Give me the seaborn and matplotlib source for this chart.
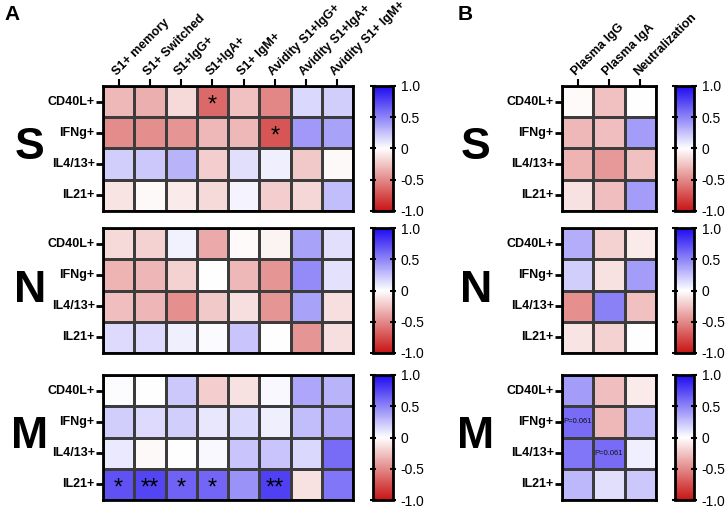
import matplotlib
matplotlib.use("Agg")
import matplotlib.pyplot as plt
import numpy as np
import pandas as pd
import seaborn as sns
from matplotlib.colors import LinearSegmentedColormap

# row / column labels
rows = ["CD40L+", "IFNg+", "IL4/13+", "IL21+"]
cols_a = ["S1+ memory", "S1+ Switched", "S1+IgG+", "S1+IgA+", "S1+ IgM+",
          "Avidity S1+IgG+", "Avidity S1+IgA+", "Avidity S1+ IgM+"]
cols_b = ["Plasma IgG", "Plasma IgA", "Neutralization"]
proteins = ["S", "N", "M"]

# correlation values (panel A)
a_S = [[-0.30, -0.34, -0.16, -0.64, -0.26, -0.51, 0.16, 0.20],
       [-0.49, -0.48, -0.45, -0.30, -0.30, -0.72, 0.42, 0.38],
       [0.20, 0.22, 0.31, -0.21, 0.13, 0.07, -0.23, -0.03],
       [-0.11, -0.03, -0.09, -0.16, 0.04, -0.21, -0.17, 0.27]]
a_N = [[-0.16, -0.19, 0.06, -0.36, -0.02, -0.05, 0.38, 0.13],
       [-0.32, -0.31, -0.19, 0.00, -0.30, -0.45, 0.47, 0.12],
       [-0.28, -0.31, -0.47, -0.23, -0.14, -0.45, 0.38, -0.14],
       [0.15, 0.15, 0.07, 0.02, 0.24, 0.00, -0.45, -0.14]]
a_M = [[0.01, 0.00, 0.22, -0.21, -0.13, 0.03, 0.36, 0.31],
       [0.20, 0.15, 0.20, 0.10, 0.16, 0.07, 0.27, 0.33],
       [0.09, -0.03, 0.00, 0.03, 0.24, 0.24, 0.16, 0.60],
       [0.71, 0.76, 0.64, 0.62, 0.44, 0.78, -0.13, 0.56]]

# panel B
b_S = [[-0.02, -0.26, 0.00],
       [-0.30, -0.28, 0.40],
       [-0.32, -0.43, -0.26],
       [-0.13, -0.28, 0.40]]
b_N = [[0.33, -0.19, -0.09],
       [0.20, -0.13, 0.40],
       [-0.47, 0.51, -0.26],
       [-0.11, -0.19, 0.00]]
b_M = [[0.40, -0.28, -0.09],
       [0.60, -0.30, 0.29],
       [0.56, 0.60, 0.07],
       [0.29, 0.13, 0.22]]

# significance marks: (row, column, text)
sig_a = {"S": [("CD40L+", "S1+IgA+", "*"), ("IFNg+", "Avidity S1+IgG+", "*")],
         "N": [],
         "M": [("IL21+", "S1+ memory", "*"), ("IL21+", "S1+ Switched", "**"),
               ("IL21+", "S1+IgG+", "*"), ("IL21+", "S1+IgA+", "*"),
               ("IL21+", "Avidity S1+IgG+", "**")]}
sig_b = {"S": [], "N": [],
         "M": [("IFNg+", "Plasma IgG", "P=0.061"), ("IL4/13+", "Plasma IgA", "P=0.061")]}

plt.rcParams["font.family"] = ["Liberation Sans", "DejaVu Sans"]

cmap = LinearSegmentedColormap.from_list("rwb", ["#c81414", "#ffffff", "#1e0af0"])

W, H = 727, 508
fig = plt.figure(figsize=(W / 100, H / 100), dpi=100)


def box(x0, y0, x1, y1):
    # pixel box -> figure fraction
    return [x0 / W, 1 - y1 / H, (x1 - x0) / W, (y1 - y0) / H]


def draw(ax, cax, values, cols, marks, top, small=False):
    df = pd.DataFrame(values, index=rows, columns=cols)
    annot = pd.DataFrame("", index=rows, columns=cols)
    for r, c, t in marks:
        annot.loc[r, c] = t
    kws = {"fontsize": 5.5, "color": "#111111"} if small else {"fontsize": 17, "color": "black"}
    sns.heatmap(df, ax=ax, cbar_ax=cax, cmap=cmap, vmin=-1, vmax=1,
                linewidths=1, linecolor="#3c3c3c", annot=annot.values, fmt="",
                annot_kws=kws, cbar_kws={"ticks": [-1, -0.5, 0, 0.5, 1]})
    if not small:
        for t in ax.texts:
            x, y = t.get_position()
            t.set_position((x, y + 0.12))
    for s in ax.spines.values():
        s.set_visible(True)
        s.set_linewidth(2)
    ax.tick_params(axis="y", left=True, length=5, width=2, pad=1)
    ax.set_yticklabels(rows, rotation=0, fontsize=9, fontweight="bold")
    if top:
        ax.xaxis.tick_top()
        ax.tick_params(axis="x", top=True, bottom=False, length=5, width=1.5, pad=1)
        ax.set_xticklabels(cols, rotation=45, ha="left", rotation_mode="anchor",
                           fontsize=9, fontweight="bold")
    else:
        ax.set_xticks([])
    ax.set_xlabel("")
    ax.set_ylabel("")
    cbar = ax.collections[0].colorbar
    cbar.outline.set_linewidth(2)
    cax.set_yticks([-1, -0.5, 0, 0.5, 1])
    cax.set_yticklabels(["-1.0", "-0.5", "0", "0.5", "1.0"], fontsize=10)
    cax.tick_params(axis="y", left=True, right=True, direction="inout", length=5, width=1.5, pad=3)


tops = [86, 228, 375]
data_a = [a_S, a_N, a_M]
data_b = [b_S, b_N, b_M]
for i, p in enumerate(proteins):
    y0 = tops[i]
    y1 = y0 + 125
    ax_a = fig.add_axes(box(103, y0, 353, y1))
    cax_a = fig.add_axes(box(373, y0, 393, y1))
    draw(ax_a, cax_a, data_a[i], cols_a, sig_a[p], top=(i == 0))
    ax_b = fig.add_axes(box(562, y0, 656, y1))
    cax_b = fig.add_axes(box(675, y0, 694, y1))
    draw(ax_b, cax_b, data_b[i], cols_b, sig_b[p], top=(i == 0), small=True)
    yc = 1 - (y0 + 62) / H
    fig.text(30 / W, yc, p, fontsize=32, fontweight="bold", ha="center", va="center")
    fig.text(476 / W, yc, p, fontsize=32, fontweight="bold", ha="center", va="center")

fig.text(12 / W, 1 - 14 / H, "A", fontsize=15, fontweight="bold", ha="center", va="center")
fig.text(465 / W, 1 - 14 / H, "B", fontsize=15, fontweight="bold", ha="center", va="center")

fig.savefig("out.png", dpi=100)
